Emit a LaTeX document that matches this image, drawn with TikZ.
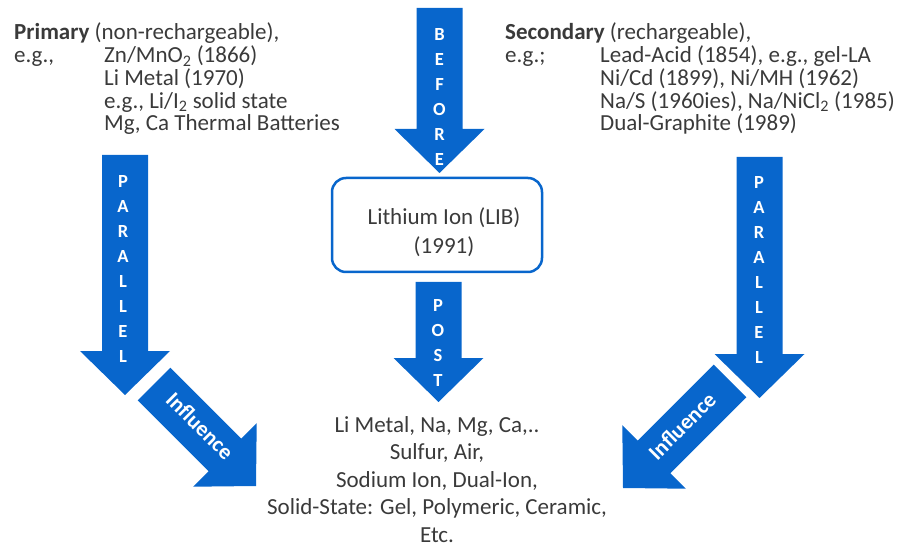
\documentclass[tikz,border=0pt]{standalone}
\usepackage{fontspec}
\setmainfont{Carlito}
\usetikzlibrary{calc}

\definecolor{arrowblue}{RGB}{8,102,204}
\definecolor{textgray}{RGB}{58,58,58}

% block arrow from one coordinate to another
\newcommand{\blockarrow}[2]{%
  \fill[arrowblue]
    ($(#1)!23pt!-90:(#2)$) --
    ($(#2)!44pt!(#1)!23pt!90:(#1)$) --
    ($(#2)!44pt!(#1)!45pt!90:(#1)$) --
    (#2) --
    ($(#2)!44pt!(#1)!45pt!-90:(#1)$) --
    ($(#2)!44pt!(#1)!23pt!-90:(#1)$) --
    ($(#1)!23pt!90:(#2)$) -- cycle;}

\tikzset{
  itemtext/.style={anchor=base west, inner sep=0pt, text=textgray,
    font=\fontsize{23}{27}\selectfont},
  midtext/.style={itemtext, anchor=base},
  stack/.style={text=white, align=center, inner sep=0pt,
    font=\fontsize{18.5}{25}\selectfont\bfseries},
  influence/.style={text=white, inner sep=0pt,
    font=\fontsize{22}{25}\selectfont\bfseries},
}

\begin{document}
\begin{tikzpicture}[x=1pt,y=1pt]
  \useasboundingbox (0,0) rectangle (908,547);

  % primary
  \node[itemtext] (prim)    at (14,507)    {\textbf{Primary} (non-rechargeable),};
  \node[itemtext] (prim-eg) at (14,484.3)  {e.g.,};
  \node[itemtext] (prim-1)  at (104,484.3) {Zn/MnO\textsubscript{2} (1866)};
  \node[itemtext] (prim-2)  at (104,461.6) {Li Metal (1970)};
  \node[itemtext] (prim-3)  at (104,438.9) {e.g., Li/I\textsubscript{2} solid state};
  \node[itemtext] (prim-4)  at (104,416.2) {Mg, Ca Thermal Batteries};

  % secondary
  \node[itemtext] (sec)    at (505,507)    {\textbf{Secondary} (rechargeable),};
  \node[itemtext] (sec-eg) at (505,484.3)  {e.g.;};
  \node[itemtext] (sec-1)  at (600,484.3)  {Lead-Acid (1854), e.g., gel-LA};
  \node[itemtext] (sec-2)  at (600,461.6)  {Ni/Cd (1899), Ni/MH (1962)};
  \node[itemtext] (sec-3)  at (600,438.9)  {Na/S (1960ies), Na/NiCl\textsubscript{2} (1985)};
  \node[itemtext] (sec-4)  at (600,416.2)  {Dual-Graphite (1989)};

  % lithium ion
  \node[draw=arrowblue, line width=2.5pt, rounded corners=14pt,
        minimum width=210pt, minimum height=94pt] (lib) at (437,322) {};
  \node[text=textgray, align=center, inner sep=0pt,
        font=\fontsize{23}{29}\selectfont] (lib-txt) at (444,314.5)
        {Lithium Ion (LIB)\\(1991)};

  % after
  \node[midtext] (post-1) at (437,115)  {Li Metal, Na, Mg, Ca,..};
  \node[midtext] (post-2) at (437,87.5) {Sulfur, Air,};
  \node[midtext] (post-3) at (437,60)   {Sodium Ion, Dual-Ion,};
  \node[midtext] (post-4) at (437,32.5) {Solid-State: Gel, Polymeric, Ceramic,};
  \node[midtext] (post-5) at (437,5)    {Etc.};

  % arrows
  \coordinate (before-top)   at (439.5,539);
  \coordinate (before-tip)   at (439.5,374);
  \coordinate (post-top)     at (438.5,265);
  \coordinate (post-tip)     at (438.5,145);
  \coordinate (lpar-top)     at (125,392);
  \coordinate (lpar-tip)     at (125,152);
  \coordinate (rpar-top)     at (759.5,390);
  \coordinate (rpar-tip)     at (759.5,149);
  \coordinate (linf-top)     at (154,163);
  \coordinate (linf-tip)     at (256,61);
  \coordinate (rinf-top)     at (730,166);
  \coordinate (rinf-tip)     at (623,59);

  \blockarrow{before-top}{before-tip}
  \blockarrow{post-top}{post-tip}
  \blockarrow{lpar-top}{lpar-tip}
  \blockarrow{rpar-top}{rpar-tip}
  \blockarrow{linf-top}{linf-tip}
  \blockarrow{rinf-top}{rinf-tip}

  \node[stack] (before-txt) at (439.5,450) {B\\E\\F\\O\\R\\E};
  \node[stack] (post-txt)   at (438,203.5) {P\\O\\S\\T};
  \node[stack] (lpar-txt)   at (123,277.5) {P\\A\\R\\A\\L\\L\\E\\L};
  \node[stack] (rpar-txt)   at (759,277)   {P\\A\\R\\A\\L\\L\\E\\L};
  \node[influence, rotate=-45] (linf-txt) at (200,121) {Influence};
  \node[influence, rotate=45]  (rinf-txt) at (682,121) {Influence};
\end{tikzpicture}
\end{document}
